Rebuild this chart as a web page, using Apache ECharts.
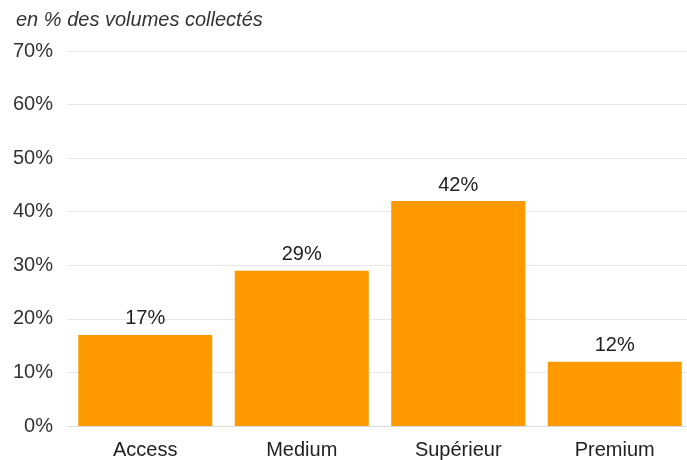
<!DOCTYPE html>
<html><head><meta charset="utf-8">
<script src="https://cdn.jsdelivr.net/npm/echarts@6/dist/echarts.min.js"></script>
<style>html,body{margin:0;padding:0;background:#fff;overflow:hidden;width:687px;height:460px;}#c{width:700px;height:460px;}</style>
</head><body><div id="c"></div>
<script>
const categories = ['Access', 'Medium', 'Supérieur', 'Premium'];
const values = [17, 29, 42, 12];
const titleText = 'en % des volumes collectés';

const chart = echarts.init(document.getElementById('c'), null, {renderer: 'canvas'});
chart.setOption({
  animation: false,
  textStyle: {fontFamily: 'Liberation Sans, Arial, sans-serif'},
  title: {
    text: titleText, left: 11, top: 5,
    textStyle: {fontSize: 20, fontStyle: 'italic', fontWeight: 'normal', color: '#333', fontFamily: 'Liberation Sans, Arial, sans-serif'}
  },
  grid: {left: 67, top: 51, right: 7, bottom: 33, containLabel: false},
  xAxis: {
    type: 'category', data: categories,
    axisLine: {show: true, lineStyle: {color: '#dcdcdc'}},
    axisTick: {show: false},
    axisLabel: {fontSize: 20, color: '#222', margin: 14}
  },
  yAxis: {
    type: 'value', min: 0, max: 70, interval: 10,
    axisLine: {show: false}, axisTick: {show: false},
    splitLine: {lineStyle: {color: '#e8e8e8'}},
    axisLabel: {fontSize: 20, color: '#333', margin: 14, formatter: '{value}%'}
  },
  series: [{
    type: 'bar', data: values, barWidth: 134,
    itemStyle: {color: '#ff9900'},
    label: {show: true, position: 'top', distance: 6, fontSize: 20, color: '#222', formatter: '{c}%'}
  }]
});
</script></body></html>
